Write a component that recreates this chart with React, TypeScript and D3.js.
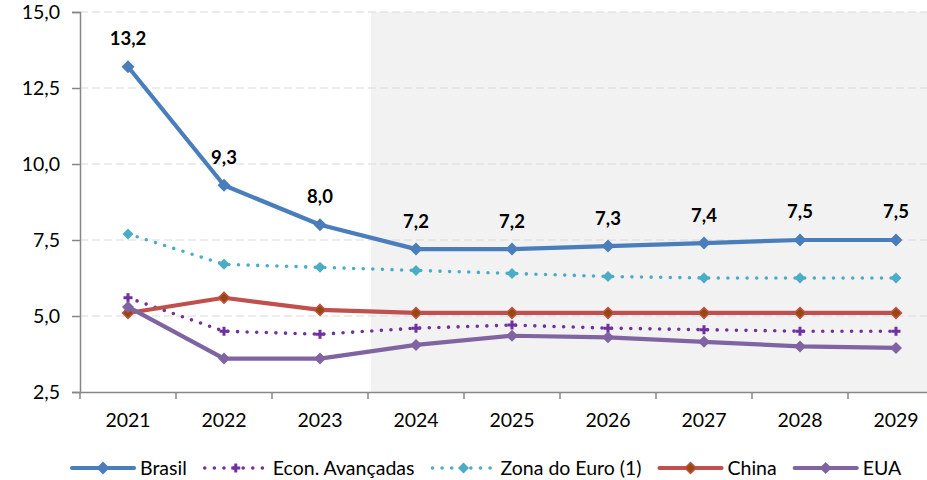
import React, { useEffect, useRef } from "react";
import * as d3 from "d3";

const years = ["2021", "2022", "2023", "2024", "2025", "2026", "2027", "2028", "2029"];
const brasil = [13.2, 9.3, 8.0, 7.2, 7.2, 7.3, 7.4, 7.5, 7.5];
const econAvancadas = [5.6, 4.5, 4.4, 4.6, 4.7, 4.6, 4.55, 4.5, 4.5];
const zonaEuro = [7.7, 6.7, 6.6, 6.5, 6.4, 6.3, 6.25, 6.25, 6.25];
const china = [5.1, 5.6, 5.2, 5.1, 5.1, 5.1, 5.1, 5.1, 5.1];
const eua = [5.3, 3.6, 3.6, 4.05, 4.35, 4.3, 4.15, 4.0, 3.95];
const yTicks = [2.5, 5.0, 7.5, 10.0, 12.5, 15.0];
const projectionStart = "2024";

const FONT = "Lato, 'Open Sans', sans-serif";
const FS = 19.5;

interface Series {
  name: string;
  values: number[];
  color: string;
  dotted: boolean;
  marker: "diamond" | "plus";
  markerFill: string;
  markerStroke?: string;
  r: number;
}

const series: Series[] = [
  { name: "Brasil", values: brasil, color: "#4a7ebb", dotted: false, marker: "diamond", markerFill: "#4a7ebb", r: 6.5 },
  { name: "Econ. Avançadas", values: econAvancadas, color: "#7030a0", dotted: true, marker: "plus", markerFill: "#7030a0", r: 4.5 },
  { name: "Zona do Euro (1)", values: zonaEuro, color: "#4bacc6", dotted: true, marker: "diamond", markerFill: "#4bacc6", r: 5.5 },
  { name: "China", values: china, color: "#c0504d", dotted: false, marker: "diamond", markerFill: "#984807", markerStroke: "#c0504d", r: 5.5 },
  { name: "EUA", values: eua, color: "#8064a2", dotted: false, marker: "diamond", markerFill: "#8064a2", r: 6 },
];

function markerPath(s: Series): string {
  if (s.marker === "plus") {
    return d3.symbol().type(d3.symbolCross).size(5 * Math.pow((s.r * 2) / 3, 2))() as string;
  }
  const r = s.r;
  return `M0,${-r}L${r},0L0,${r}L${-r},0Z`;
}

export default function App() {
  const ref = useRef<SVGSVGElement>(null);

  useEffect(() => {
    document.body.style.margin = "0";
    const width = 927;
    const svg = d3.select(ref.current);
    svg.selectAll("*").remove();

    const left = 80;
    const x = d3.scaleBand().domain(years).range([left, left + 96 * years.length]);
    const y = d3.scaleLinear().domain([2.5, 15]).range([392, 12]);
    const cx = (i: number) => (x(years[i]) as number) + x.bandwidth() / 2;

    // projection shading
    svg.append("rect")
      .attr("x", (x(projectionStart) as number) + 3)
      .attr("y", y(15))
      .attr("width", width)
      .attr("height", y(2.5) - y(15))
      .attr("fill", "#f2f2f2");

    // gridlines
    svg.append("g")
      .selectAll("line")
      .data(yTicks.filter(t => t > 2.5))
      .join("line")
      .attr("x1", left)
      .attr("x2", width)
      .attr("y1", d => y(d))
      .attr("y2", d => y(d))
      .attr("stroke", "#d9d9d9")
      .attr("stroke-width", 1.2)
      .attr("stroke-dasharray", "8 4");

    // y axis
    const yAxis = svg.append("g").attr("transform", `translate(${left},0)`)
      .call(d3.axisLeft(y).tickValues(yTicks).tickSize(8).tickPadding(12)
        .tickFormat(d => d3.format(".1f")(d as number).replace(".", ",")));
    yAxis.select(".domain").attr("stroke", "#868686").attr("stroke-width", 1.5);
    yAxis.selectAll(".tick line").attr("stroke", "#868686").attr("stroke-width", 1.5);
    yAxis.selectAll("text").attr("font-family", FONT).attr("font-size", FS).attr("fill", "#000");

    // x axis
    const xAxis = svg.append("g").attr("transform", `translate(0,${y(2.5)})`)
      .call(d3.axisBottom(x).tickSize(0).tickPadding(21));
    xAxis.select(".domain").attr("stroke", "#868686").attr("stroke-width", 1.5);
    xAxis.selectAll("text").attr("font-family", FONT).attr("font-size", FS).attr("fill", "#000");
    xAxis.selectAll(".bound")
      .data(years.map((_, i) => i))
      .join("line")
      .attr("x1", i => x(years[i]) as number)
      .attr("x2", i => x(years[i]) as number)
      .attr("y1", 0)
      .attr("y2", 7)
      .attr("stroke", "#868686")
      .attr("stroke-width", 1.5);

    // series
    const line = d3.line<number>().x((_, i) => cx(i)).y(d => y(d));
    series.forEach(s => {
      const g = svg.append("g");
      g.append("path")
        .attr("d", line(s.values))
        .attr("fill", "none")
        .attr("stroke", s.color)
        .attr("stroke-width", s.dotted ? 3.6 : 4.2)
        .attr("stroke-linecap", "round")
        .attr("stroke-linejoin", "round")
        .attr("stroke-dasharray", s.dotted ? "0 9.6" : null);
      g.selectAll("path.m")
        .data(s.values)
        .join("path")
        .attr("class", "m")
        .attr("d", markerPath(s))
        .attr("transform", (d, i) => `translate(${cx(i)},${y(d)})`)
        .attr("fill", s.markerFill)
        .attr("stroke", s.markerStroke || "none")
        .attr("stroke-width", 1.5);
    });

    // data labels (Brasil)
    svg.append("g")
      .selectAll("text")
      .data(brasil)
      .join("text")
      .attr("x", (_, i) => cx(i))
      .attr("y", d => y(d) - 28)
      .attr("dy", "0.35em")
      .attr("text-anchor", "middle")
      .attr("font-family", FONT)
      .attr("font-weight", "bold")
      .attr("font-size", 18.5)
      .text(d => d3.format(".1f")(d).replace(".", ","));

    // legend
    const legend = svg.append("g").attr("transform", "translate(0,468)");
    let lx = 72;
    const symW = 62;
    series.forEach(s => {
      const item = legend.append("g").attr("transform", `translate(${lx},0)`);
      item.append("line")
        .attr("x1", 0).attr("x2", symW)
        .attr("stroke", s.color)
        .attr("stroke-width", s.dotted ? 3.6 : 4.2)
        .attr("stroke-linecap", "round")
        .attr("stroke-dasharray", s.dotted ? "0 9.6" : null);
      item.append("path")
        .attr("d", markerPath(s))
        .attr("transform", `translate(${symW / 2},0)`)
        .attr("fill", s.markerFill)
        .attr("stroke", s.markerStroke || "none")
        .attr("stroke-width", 1.5);
      const t = item.append("text")
        .attr("x", symW + 6)
        .attr("dy", "0.35em")
        .attr("font-family", FONT)
        .attr("font-size", FS)
        .text(s.name);
      const w = (t.node() as SVGTextElement).getComputedTextLength();
      lx += symW + 6 + w + 18;
    });
  }, []);

  return <svg ref={ref} width={927} height={480} style={{ display: "block", background: "#fff" }} />;
}
